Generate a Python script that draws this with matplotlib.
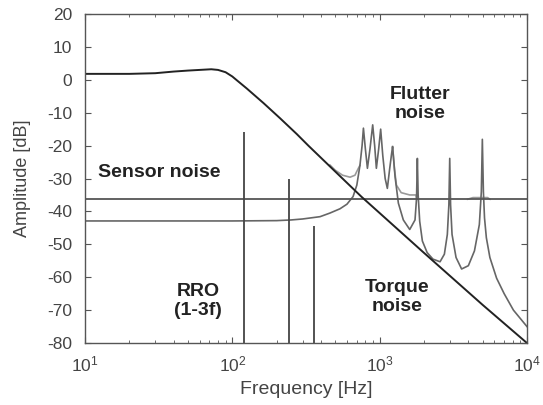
import matplotlib
matplotlib.use("Agg")
import matplotlib.pyplot as plt
import numpy as np

plt.rcParams["font.family"] = ["Liberation Sans", "DejaVu Sans"]
plt.rcParams["mathtext.fontset"] = "custom"
plt.rcParams["mathtext.rm"] = "Liberation Sans"
plt.rcParams["axes.unicode_minus"] = False

# torque noise (low-pass, about -40 dB/dec)
torque_freq = [10, 20, 30, 40, 50, 60, 72, 80, 90, 100, 107, 125, 163, 211, 274,
               328, 500, 755, 1000, 2000, 5000, 10000]
torque_db = [1.8, 1.8, 2.0, 2.5, 2.8, 3.0, 3.2, 3.0, 2.3, 1.0, -0.1, -2.6, -7.1,
             -11.7, -16.5, -20.0, -27.9, -35.6, -40.5, -52.6, -68.4, -80.0]

# flutter noise
flutter_freq = [10, 100, 200, 250, 300, 394, 460, 538, 600, 660, 700, 735, 760,
                776, 800, 826, 860, 897, 925, 950, 985, 1016, 1050, 1090, 1128,
                1170, 1205, 1224, 1272, 1340, 1448, 1600, 1738, 1780, 1803, 1825,
                1870, 1950, 2100, 2300, 2570, 2750, 2880, 2950, 2990, 3030, 3100,
                3300, 3600, 4000, 4400, 4750, 4900, 4978, 5060, 5150, 5300, 5600,
                6220, 7000, 8090, 10000]
flutter_db = [-42.9, -42.9, -42.8, -42.6, -42.3, -41.6, -40.5, -39.2, -37.8, -35.5,
              -32.0, -26.0, -20.0, -14.7, -21.0, -26.9, -21.0, -13.7, -20.0, -26.9,
              -21.0, -15.0, -23.0, -30.0, -33.0, -27.0, -22.5, -20.3, -29.4, -37.5,
              -42.6, -45.5, -42.6, -36.0, -23.9, -35.0, -43.0, -49.0, -52.5, -54.5,
              -55.3, -53.0, -47.0, -38.0, -23.9, -38.0, -47.0, -54.0, -57.5, -56.5,
              -52.0, -44.0, -34.0, -18.1, -34.0, -42.0, -48.0, -54.0, -60.3, -65.0,
              -70.0, -75.0]

# total (torque + flutter + sensor), NaN splits the pieces
total_freq = [460, 500, 560, 630, 680, 715, 735, np.nan,
              1224, 1260, 1300, 1400, 1600, 1760, 1790, np.nan,
              3950, 4300, 5400, 5610]
total_db = [-25.9, -27.5, -29.0, -29.6, -29.0, -27.0, -26.0, np.nan,
            -20.3, -27.0, -32.0, -34.3, -35.0, -35.0, -36.3, np.nan,
            -36.3, -35.8, -35.8, -36.3]

sensor_db = -36.3

# RRO harmonics
rro_freq = [120, 242, 360]
rro_top = [-15.8, -30.3, -44.3]

fig = plt.figure(figsize=(5.43, 4.05), dpi=100)
ax = fig.add_axes([0.1565, 0.153, 0.814, 0.8125])

ax.plot(total_freq, total_db, color="#9a9a9a", lw=1.2)
ax.plot(flutter_freq, flutter_db, color="#666666", lw=1.2)
ax.axhline(sensor_db, color="#555555", lw=1.3)
ax.vlines(rro_freq, -80, rro_top, color="#444444", lw=1.3)
ax.plot(torque_freq, torque_db, color="#222222", lw=1.4)

ax.set_xscale("log")
ax.set_xlim(10, 1e4)
ax.set_ylim(-80, 20)
ax.set_yticks(np.arange(-80, 21, 10))

label_kw = dict(fontsize=14, fontweight="bold", color="#222222",
                ha="center", va="center", linespacing=1.15)
ax.text(1880, -7.5, "Flutter\nnoise", **label_kw)
ax.text(12.2, -28.3, "Sensor noise", fontsize=14, fontweight="bold",
        color="#222222", ha="left", va="center")
ax.text(58.5, -67.2, "RRO\n(1-3f)", **label_kw)
ax.text(1306, -65.9, "Torque\nnoise", **label_kw)

ax.set_xlabel("Frequency [Hz]", fontsize=14, color="#444444", labelpad=5)
ax.set_ylabel("Amplitude [dB]", fontsize=13, color="#444444", labelpad=12)

ax.tick_params(which="both", direction="in", top=True, right=True,
               colors="#555555", labelcolor="#444444", labelsize=12.5)
ax.tick_params(axis="x", which="major", pad=8)
ax.tick_params(axis="y", which="major", pad=9)
ax.tick_params(which="major", length=4)
ax.tick_params(which="minor", length=2)
for s in ax.spines.values():
    s.set_color("#555555")
    s.set_linewidth(1.0)

fig.savefig("out.png", dpi=100)
